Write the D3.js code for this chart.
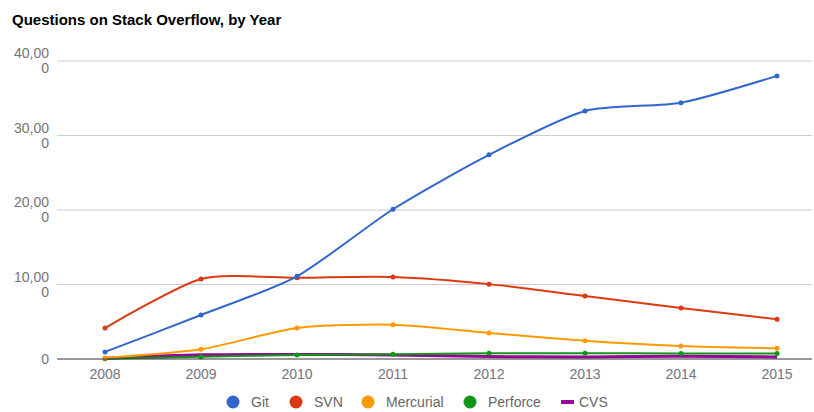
<!DOCTYPE html>
<html>
<head>
<meta charset="utf-8">
<script src="https://cdn.jsdelivr.net/npm/d3@7"></script>
<style>
  body { margin: 0; background: #fff; }
  text { font-family: "Liberation Sans", Arial, sans-serif; }
</style>
</head>
<body>
<script>
// data
var years = ["2008", "2009", "2010", "2011", "2012", "2013", "2014", "2015"];
var git = [950, 5900, 11100, 20100, 27400, 33300, 34400, 38000];
var svn = [4150, 10750, 10900, 11000, 10050, 8450, 6850, 5350];
var mercurial = [150, 1300, 4150, 4600, 3500, 2450, 1750, 1450];
var perforce = [50, 300, 550, 650, 780, 780, 740, 740];
var cvs = [100, 560, 620, 540, 320, 280, 380, 280];
var yTicks = [0, 10000, 20000, 30000, 40000];

var series = [
  {name: "Git", values: git, color: "#3366cc"},
  {name: "SVN", values: svn, color: "#dc3912"},
  {name: "Mercurial", values: mercurial, color: "#ff9900"},
  {name: "Perforce", values: perforce, color: "#109618"},
  {name: "CVS", values: cvs, color: "#990099"}
];

var width = 814, height = 412;

var svg = d3.select("body").append("svg")
    .attr("width", width)
    .attr("height", height);

// title
svg.append("text")
    .attr("x", 12)
    .attr("y", 25)
    .attr("font-size", 15)
    .attr("font-weight", "bold")
    .attr("fill", "#000")
    .text("Questions on Stack Overflow, by Year");

var x = d3.scalePoint().domain(years).range([105, 777]);
var y = d3.scaleLinear().domain([0, 40000]).range([359, 61]);

// gridlines
svg.append("g").selectAll("line")
    .data(yTicks.slice(1))
  .enter().append("line")
    .attr("x1", 57).attr("x2", 812)
    .attr("y1", function(d) { return y(d); })
    .attr("y2", function(d) { return y(d); })
    .attr("stroke", "#cccccc");

// y labels (wrapped like the original)
var fmt = d3.format(",");
var yl = svg.append("g").selectAll("text")
    .data(yTicks)
  .enter().append("text")
    .attr("text-anchor", "end")
    .attr("font-size", 14)
    .attr("fill", "#757575");
yl.each(function(d) {
  var t = d3.select(this);
  var s = fmt(d);
  if (s.length > 5) {
    t.append("tspan").attr("x", 49).attr("y", y(d) - 3).text(s.slice(0, 5));
    t.append("tspan").attr("x", 49).attr("y", y(d) + 12).text(s.slice(5));
  } else {
    t.append("tspan").attr("x", 49).attr("y", y(d) + 5).text(s);
  }
});

// x labels
svg.append("g").selectAll("text")
    .data(years)
  .enter().append("text")
    .attr("x", function(d) { return x(d); })
    .attr("y", 379)
    .attr("text-anchor", "middle")
    .attr("font-size", 14)
    .attr("fill", "#757575")
    .text(function(d) { return d; });

var line = d3.line()
    .x(function(d, i) { return x(years[i]); })
    .y(function(d) { return y(d); })
    .curve(d3.curveCardinal.tension(0.3));

// draw bottom series first
var drawOrder = series.slice().reverse();
var g = svg.append("g").selectAll("g")
    .data(drawOrder)
  .enter().append("g");

g.append("path")
    .attr("d", function(d) { return line(d.values); })
    .attr("fill", "none")
    .attr("stroke", function(d) { return d.color; })
    .attr("stroke-width", function(d) { return d.name == "CVS" ? 3 : 2; });

g.filter(function(d) { return d.name != "CVS"; })
  .selectAll("circle")
    .data(function(d) { return d.values.map(function(v) { return {v: v, c: d.color}; }); })
  .enter().append("circle")
    .attr("cx", function(d, i) { return x(years[i]); })
    .attr("cy", function(d) { return y(d.v); })
    .attr("r", 2.5)
    .attr("fill", function(d) { return d.c; });

// baseline
svg.append("line")
    .attr("x1", 57).attr("x2", 812)
    .attr("y1", y(0)).attr("y2", y(0))
    .attr("stroke", "#333333");

// legend
var legendX = [233, 296, 368, 470, 567];
var legend = svg.append("g").selectAll("g")
    .data(series)
  .enter().append("g")
    .attr("transform", function(d, i) { return "translate(" + legendX[i] + ",402)"; });

legend.each(function(d) {
  var l = d3.select(this);
  if (d.name == "CVS") {
    l.append("rect").attr("x", -6).attr("y", -2).attr("width", 13).attr("height", 4).attr("fill", d.color);
  } else {
    l.append("circle").attr("r", 6.5).attr("fill", d.color);
  }
  l.append("text")
    .attr("x", d.name == "CVS" ? 12 : 18)
    .attr("y", 5)
    .attr("font-size", 14)
    .attr("fill", "#666")
    .text(d.name);
});
</script>
</body>
</html>
